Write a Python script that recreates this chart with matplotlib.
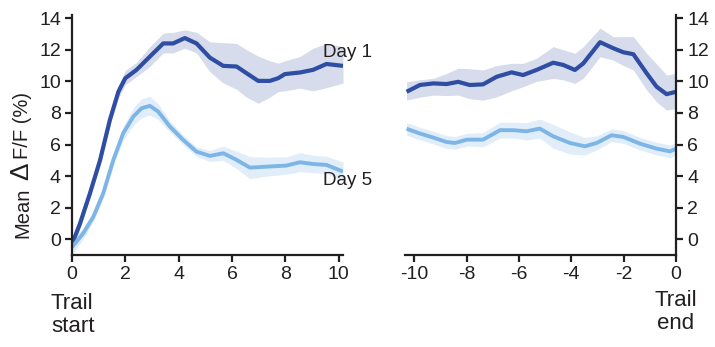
import matplotlib
matplotlib.use("Agg")
import matplotlib.pyplot as plt
import numpy as np

plt.rcParams['font.family'] = ['Liberation Sans', 'DejaVu Sans']
plt.rcParams['axes.unicode_minus'] = False

# ---- Left panel (trail start) ----
t_start_d1 = [0, 0.3, 0.67, 1.05, 1.42, 1.74, 2.0, 2.42, 2.92, 3.42, 3.79, 4.23, 4.67,
              5.17, 5.67, 6.17, 6.54, 6.98, 7.42, 7.73, 7.98, 8.54, 9.04, 9.54, 10.16]
d1_start = [-0.3, 1.0, 2.9, 5.0, 7.56, 9.35, 10.2, 10.73, 11.57, 12.4, 12.4, 12.74, 12.4,
            11.5, 10.98, 10.94, 10.52, 10.03, 10.03, 10.2, 10.46, 10.56, 10.73, 11.1, 10.98]
d1_start_hi = [0.0, 1.3, 3.2, 5.3, 7.9, 9.75, 10.7, 11.2, 12.2, 13.05, 13.1, 13.26, 13.1,
               12.5, 12.45, 12.4, 12.0, 11.6, 11.3, 11.15, 11.3, 11.57, 12.1, 12.4, 12.2]
d1_start_lo = [-0.9, 0.7, 2.6, 4.7, 7.2, 8.95, 9.8, 10.3, 10.95, 11.8, 11.8, 12.1, 11.8,
               10.6, 9.9, 9.5, 9.0, 8.62, 9.0, 9.35, 9.4, 9.57, 9.4, 9.6, 9.89]

t_start_d5 = [0, 0.42, 0.8, 1.17, 1.55, 1.92, 2.3, 2.61, 2.92, 3.23, 3.67, 4.17, 4.67,
              5.17, 5.67, 6.17, 6.67, 7.29, 8.04, 8.54, 9.04, 9.54, 10.16]
d5_start = [-0.5, 0.38, 1.43, 2.91, 5.03, 6.72, 7.77, 8.3, 8.45, 8.09, 7.14, 6.29, 5.55,
            5.28, 5.45, 5.03, 4.54, 4.6, 4.67, 4.88, 4.77, 4.71, 4.29]
d5_start_err = [0.5, 0.35, 0.3, 0.3, 0.35, 0.45, 0.55, 0.6, 0.6, 0.5, 0.35, 0.3, 0.3,
                0.35, 0.45, 0.55, 0.7, 0.6, 0.55, 0.6, 0.55, 0.55, 0.6]

# ---- Right panel (trail end) ----
t_end_d1 = [-10.29, -9.78, -9.27, -8.76, -8.32, -7.88, -7.37, -6.85, -6.28, -5.84, -5.33,
            -4.69, -4.31, -3.86, -3.54, -2.9, -2.4, -2.01, -1.63, -1.12, -0.74, -0.36, 0.0]
d1_end = [9.34, 9.77, 9.87, 9.83, 9.97, 9.77, 9.81, 10.29, 10.57, 10.4, 10.72,
          11.18, 11.04, 10.72, 11.14, 12.48, 12.1, 11.84, 11.72, 10.51, 9.66, 9.19, 9.34]
d1_end_hi = [9.97, 10.1, 10.19, 10.5, 10.83, 10.8, 10.72, 11.0, 11.14, 11.14, 11.46,
             12.2, 12.0, 11.78, 12.2, 13.37, 12.83, 12.83, 12.83, 11.78, 11.1, 10.4, 10.51]
d1_end_lo = [8.81, 9.0, 9.13, 9.1, 9.13, 8.9, 8.81, 9.02, 9.4, 9.66, 10.0,
             10.19, 10.1, 9.87, 10.2, 11.56, 11.35, 11.0, 10.72, 9.45, 8.7, 8.18, 8.28]

t_end_d5 = [-10.29, -9.78, -9.27, -8.76, -8.44, -7.99, -7.37, -6.72, -6.21, -5.71, -5.2,
            -4.69, -4.05, -3.48, -3.03, -2.46, -2.01, -1.38, -0.74, -0.23, 0.0]
d5_end = [7.0, 6.7, 6.44, 6.16, 6.1, 6.31, 6.31, 6.91, 6.91, 6.84, 7.01,
          6.52, 6.1, 5.89, 6.1, 6.59, 6.48, 6.06, 5.74, 5.57, 5.74]
d5_end_err = [0.4, 0.4, 0.4, 0.4, 0.4, 0.4, 0.45, 0.5, 0.5, 0.55, 0.6,
              0.75, 0.7, 0.55, 0.45, 0.4, 0.4, 0.4, 0.4, 0.4, 0.4]

yticks = [0, 2, 4, 6, 8, 10, 12, 14]
xticks_start = [0, 2, 4, 6, 8, 10]
xticks_end = [-10, -8, -6, -4, -2, 0]

c_d1 = '#2E4DA3'
c_d1_band = '#D6DCEB'
c_d5 = '#7DB6E6'
c_d5_band = '#E1EEF9'
txt = '#231F20'

W, H = 715, 347
fig = plt.figure(figsize=(W / 100, H / 100), dpi=100)

def frac_x(px):
    return px / W

def frac_y(py):
    return 1 - py / H

ax1 = fig.add_axes([frac_x(72), frac_y(255), frac_x(343 - 72), (255 - 15) / H])
ax2 = fig.add_axes([frac_x(405), frac_y(255), frac_x(676 - 405), (255 - 15) / H])

ylim = (-0.99, 14.2)
line_kw = dict(solid_capstyle='butt', solid_joinstyle='round')

# Left
ax1.fill_between(t_start_d1, d1_start_lo, d1_start_hi, color=c_d1_band, lw=0)
d5s = np.array(d5_start); e5s = np.array(d5_start_err)
ax1.fill_between(t_start_d5, d5s - e5s, d5s + e5s, color=c_d5_band, lw=0)
ax1.plot(t_start_d1, d1_start, color=c_d1, lw=3.0, **line_kw)
ax1.plot(t_start_d5, d5_start, color=c_d5, lw=2.8, **line_kw)
ax1.set_xlim(0, 10.16)
ax1.set_ylim(*ylim)
ax1.set_xticks(xticks_start)
ax1.set_yticks(yticks)
ax1.spines['top'].set_visible(False)
ax1.spines['right'].set_visible(False)

# Right
ax2.fill_between(t_end_d1, d1_end_lo, d1_end_hi, color=c_d1_band, lw=0)
d5e = np.array(d5_end); e5e = np.array(d5_end_err)
ax2.fill_between(t_end_d5, d5e - e5e, d5e + e5e, color=c_d5_band, lw=0)
ax2.plot(t_end_d1, d1_end, color=c_d1, lw=3.0, **line_kw)
ax2.plot(t_end_d5, d5_end, color=c_d5, lw=2.8, **line_kw)
ax2.set_xlim(-10.35, 0)
ax2.set_ylim(*ylim)
ax2.set_xticks(xticks_end)
ax2.set_yticks(yticks)
ax2.yaxis.tick_right()
ax2.spines['top'].set_visible(False)
ax2.spines['left'].set_visible(False)

for ax in (ax1, ax2):
    for s in ax.spines.values():
        s.set_linewidth(1.6)
        s.set_color(txt)
    ax.tick_params(direction='out', length=5, width=1.6, colors=txt,
                   labelsize=14, pad=3)
    ax.patch.set_alpha(0)

# Y label built from pieces so that the Delta can be larger
lab_kw = dict(color=txt, rotation=90, rotation_mode='anchor',
              ha='left', va='baseline')
fig.text(frac_x(28), frac_y(238), 'Mean', fontsize=14.5, **lab_kw)
fig.text(frac_x(28), frac_y(180), '\u0394', fontsize=19, **lab_kw)
fig.text(frac_x(28), frac_y(159), 'F/F (%)', fontsize=14.5, **lab_kw)

ax1.text(9.4, 11.85, 'Day 1', fontsize=13.5, color=txt, ha='left', va='center',
         clip_on=False)
ax1.text(9.4, 3.7, 'Day 5', fontsize=13.5, color=txt, ha='left', va='center',
         clip_on=False)

fig.text(frac_x(51), frac_y(293), 'Trail\nstart', fontsize=16, color=txt,
         ha='left', va='top', linespacing=1.12)
fig.text(frac_x(676), frac_y(290), 'Trail\nend', fontsize=16, color=txt,
         ha='center', va='top', linespacing=1.12, multialignment='center')

fig.savefig('out.png', dpi=100)
